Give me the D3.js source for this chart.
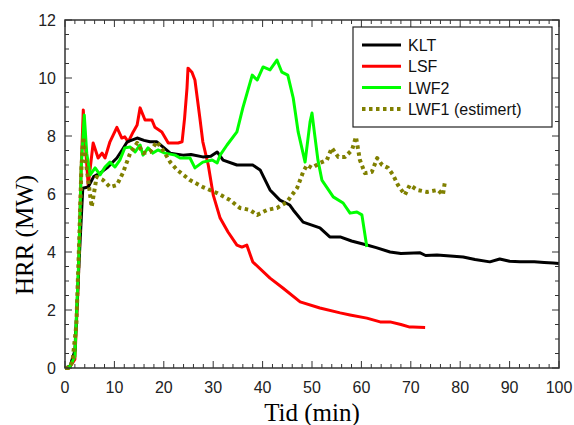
<!DOCTYPE html>
<html>
<head>
<meta charset="utf-8">
<script src="https://cdn.jsdelivr.net/npm/d3@7"></script>
<style>
  body { margin: 0; background: #fff; }
  svg { display: block; }
</style>
</head>
<body>
<div id="chart"></div>
<script>
// data: [tid (min), HRR (MW)]
const kltData = [[0,0],[1,0.05],[2,0.6],[2.8,3.5],[3.6,6.2],[4.7,6.24],[5.8,6.6],[7.1,6.72],[8.5,6.9],[10.5,7.24],[11.5,7.5],[12.6,7.8],[14.6,7.93],[16,7.85],[17.2,7.8],[18.6,7.8],[20,7.6],[21.3,7.41],[23.9,7.34],[25.5,7.36],[27.9,7.28],[29.5,7.3],[30.8,7.45],[32,7.17],[34.8,7.0],[38,7.0],[39.5,6.83],[41.5,6.14],[43.5,5.79],[45.5,5.62],[46.2,5.45],[48.2,5.03],[51.6,4.83],[53.6,4.52],[55.7,4.52],[58,4.38],[61.1,4.24],[63,4.15],[65.8,4.0],[68,3.95],[71.9,3.97],[73,3.88],[75.3,3.9],[78,3.86],[80.6,3.83],[83,3.74],[86,3.66],[88,3.76],[90,3.68],[92.1,3.66],[95,3.66],[97,3.64],[98.8,3.62],[100,3.6]];
const lsfData = [[0,0],[1,0.05],[2,0.3],[2.7,3.0],[3.2,6.5],[3.7,8.9],[4.2,7.5],[4.7,6.3],[5.7,7.76],[6.7,7.24],[7.5,7.41],[8.1,7.24],[9.1,7.8],[10.5,8.3],[11.5,7.93],[12.1,7.97],[12.8,7.8],[13.8,8.14],[14.6,8.38],[15.2,8.97],[16.2,8.55],[17.6,8.55],[18.2,8.3],[19.6,8.14],[20.9,7.76],[22.9,7.76],[23.7,7.8],[24.2,8.6],[24.7,9.66],[24.9,10.34],[25.7,10.2],[26.3,9.93],[27.3,8.62],[27.9,7.8],[29,7.0],[30,5.97],[31.4,5.17],[33,4.69],[34.8,4.24],[35.8,4.17],[36.8,4.24],[38,3.66],[41.5,3.1],[44.1,2.76],[47.6,2.28],[51.6,2.07],[55.7,1.9],[57.7,1.83],[61.1,1.72],[63.8,1.59],[65.8,1.59],[68,1.5],[69.8,1.41],[70.4,1.41],[72.9,1.4]];
const lwf2Data = [[0,0],[1,0.05],[2,0.4],[2.8,3.8],[3.3,7.0],[3.9,8.72],[4.4,7.4],[5.1,6.66],[6.1,6.9],[7.1,6.66],[8.1,6.93],[9.1,7.1],[10.1,6.93],[11.1,7.17],[12.1,7.59],[13.2,7.62],[14.2,7.45],[15.2,7.69],[15.8,7.34],[16.8,7.59],[17.8,7.41],[18.8,7.52],[20.2,7.41],[22.3,7.34],[23.3,7.24],[25.3,7.24],[26.3,6.9],[27.9,7.1],[29.8,7.17],[30.8,7.07],[31.4,7.34],[32.8,7.69],[34.8,8.14],[36,8.97],[37.9,10.1],[38.9,9.93],[40.1,10.38],[41.5,10.28],[42.9,10.62],[43.9,10.2],[45.1,10.1],[46.2,9.31],[47.2,8.14],[48.6,7.1],[49.6,8.48],[50,8.79],[50.6,7.97],[51.2,7.17],[52,6.48],[54.3,5.9],[56.3,5.69],[57.7,5.34],[59.1,5.38],[60.1,5.28],[61.1,4.17]];
const lwf1Data = [[0,0],[0.7,0],[1.5,0.2],[2.3,1.5],[2.9,4.5],[3.3,6.8],[3.7,7.97],[4.3,7.0],[5.4,5.55],[6.4,6.59],[7.7,6.48],[9.1,6.24],[10.5,6.31],[11.7,6.72],[13.2,7.41],[14.6,7.76],[15.8,7.41],[17.2,7.45],[18.6,7.8],[19.8,7.52],[21.3,7.1],[22.7,6.83],[25.3,6.48],[27.9,6.24],[30.8,6.03],[33.4,5.79],[35.4,5.52],[37.4,5.45],[38.9,5.28],[40.9,5.45],[42.9,5.52],[44.9,5.72],[47,6.21],[48.2,6.76],[49,7.0],[50,6.9],[51.6,7.07],[53,7.17],[54,7.59],[55.3,7.28],[56.7,7.28],[58.1,7.52],[58.9,7.97],[59.7,7.17],[60.7,6.72],[62.1,6.76],[63.2,7.24],[64.2,7.0],[65.4,6.9],[66.4,6.66],[67.4,6.31],[68.8,5.97],[69.8,6.31],[71.3,6.14],[73.3,6.07],[75.5,6.14],[76.5,5.97],[76.9,6.41]];

const seriesNames = ["KLT", "LSF", "LWF2", "LWF1 (estimert)"];
const seriesColors = ["#000000", "#ff0000", "#00ff00", "#808000"];
const xTicks = [0, 10, 20, 30, 40, 50, 60, 70, 80, 90, 100];
const yTicks = [0, 2, 4, 6, 8, 10, 12];

const width = 574, height = 425;
const margin = {left: 65, right: 15, top: 20, bottom: 57};

const svg = d3.select("#chart").append("svg")
  .attr("width", width).attr("height", height);

const x = d3.scaleLinear().domain([0, 100]).range([margin.left, width - margin.right]);
const y = d3.scaleLinear().domain([0, 12]).range([height - margin.bottom, margin.top]);

const x0 = x.range()[0], x1 = x.range()[1];
const y0 = y.range()[0], y1 = y.range()[1];

// ticks pointing inward, on all 4 sides
const xMinor = d3.range(0, 100.01, 2);
const yMinor = d3.range(0, 12.01, 0.5);
const tickG = svg.append("g").attr("stroke", "#333").attr("stroke-width", 1);
xMinor.forEach(function(v){
  let len = (v % 10 === 0) ? 7 : 4;
  tickG.append("line").attr("x1", x(v)).attr("x2", x(v)).attr("y1", y0).attr("y2", y0 - len);
  tickG.append("line").attr("x1", x(v)).attr("x2", x(v)).attr("y1", y1).attr("y2", y1 + len);
});
yMinor.forEach(function(v){
  let len = (v % 2 === 0) ? 7 : 4;
  tickG.append("line").attr("x1", x0).attr("x2", x0 + len).attr("y1", y(v)).attr("y2", y(v));
  tickG.append("line").attr("x1", x1).attr("x2", x1 - len).attr("y1", y(v)).attr("y2", y(v));
});

// tick labels
svg.append("g").selectAll("text").data(xTicks).enter().append("text")
  .attr("x", d => x(d)).attr("y", y0 + 25)
  .attr("text-anchor", "middle")
  .attr("font-family", "Liberation Sans, Arial, sans-serif").attr("font-size", 16)
  .attr("fill", "#222")
  .text(d => d);
svg.append("g").selectAll("text").data(yTicks).enter().append("text")
  .attr("x", x0 - 9).attr("y", d => y(d) + 6)
  .attr("text-anchor", "end")
  .attr("font-family", "Liberation Sans, Arial, sans-serif").attr("font-size", 16)
  .attr("fill", "#222")
  .text(d => d);

// lines
const line = d3.line().x(d => x(d[0])).y(d => y(d[1]));
const allData = [kltData, lsfData, lwf2Data, lwf1Data];
const drawOrder = [1, 0, 2, 3];
drawOrder.forEach(function(i){
  let p = svg.append("path").datum(allData[i])
    .attr("d", line)
    .attr("fill", "none")
    .attr("stroke", seriesColors[i])
    .attr("stroke-linejoin", "round");
  if (i === 3) {
    p.attr("stroke-width", 4).attr("stroke-dasharray", "3.5,3.5");
  } else {
    p.attr("stroke-width", 3);
  }
});

// frame
svg.append("rect")
  .attr("x", x0).attr("y", y1).attr("width", x1 - x0).attr("height", y0 - y1)
  .attr("fill", "none").attr("stroke", "#333").attr("stroke-width", 1.5);

// axis titles
svg.append("text")
  .attr("x", (x0 + x1) / 2).attr("y", 421)
  .attr("text-anchor", "middle")
  .attr("font-family", "Liberation Serif, Times New Roman, serif").attr("font-size", 25)
  .text("Tid (min)");
svg.append("text")
  .attr("transform", "translate(33," + 235 + ") rotate(-90)")
  .attr("text-anchor", "middle")
  .attr("font-family", "Liberation Serif, Times New Roman, serif").attr("font-size", 25)
  .text("HRR (MW)");

// legend
const legend = svg.append("g");
legend.append("rect")
  .attr("x", 353).attr("y", 27).attr("width", 199).attr("height", 100)
  .attr("fill", "#fff").attr("stroke", "#222").attr("stroke-width", 1.2);
seriesNames.forEach(function(name, i){
  let ly = 45 + i * 21.3;
  let l = legend.append("line")
    .attr("x1", 362).attr("x2", 401).attr("y1", ly).attr("y2", ly)
    .attr("stroke", seriesColors[i]);
  if (i === 3) {
    l.attr("stroke-width", 4).attr("stroke-dasharray", "3.5,3.5");
  } else {
    l.attr("stroke-width", 3);
  }
  legend.append("text")
    .attr("x", 408).attr("y", ly + 6)
    .attr("font-family", "Liberation Sans, Arial, sans-serif").attr("font-size", 16)
    .attr("fill", "#111")
    .text(name);
});
</script>
</body>
</html>
